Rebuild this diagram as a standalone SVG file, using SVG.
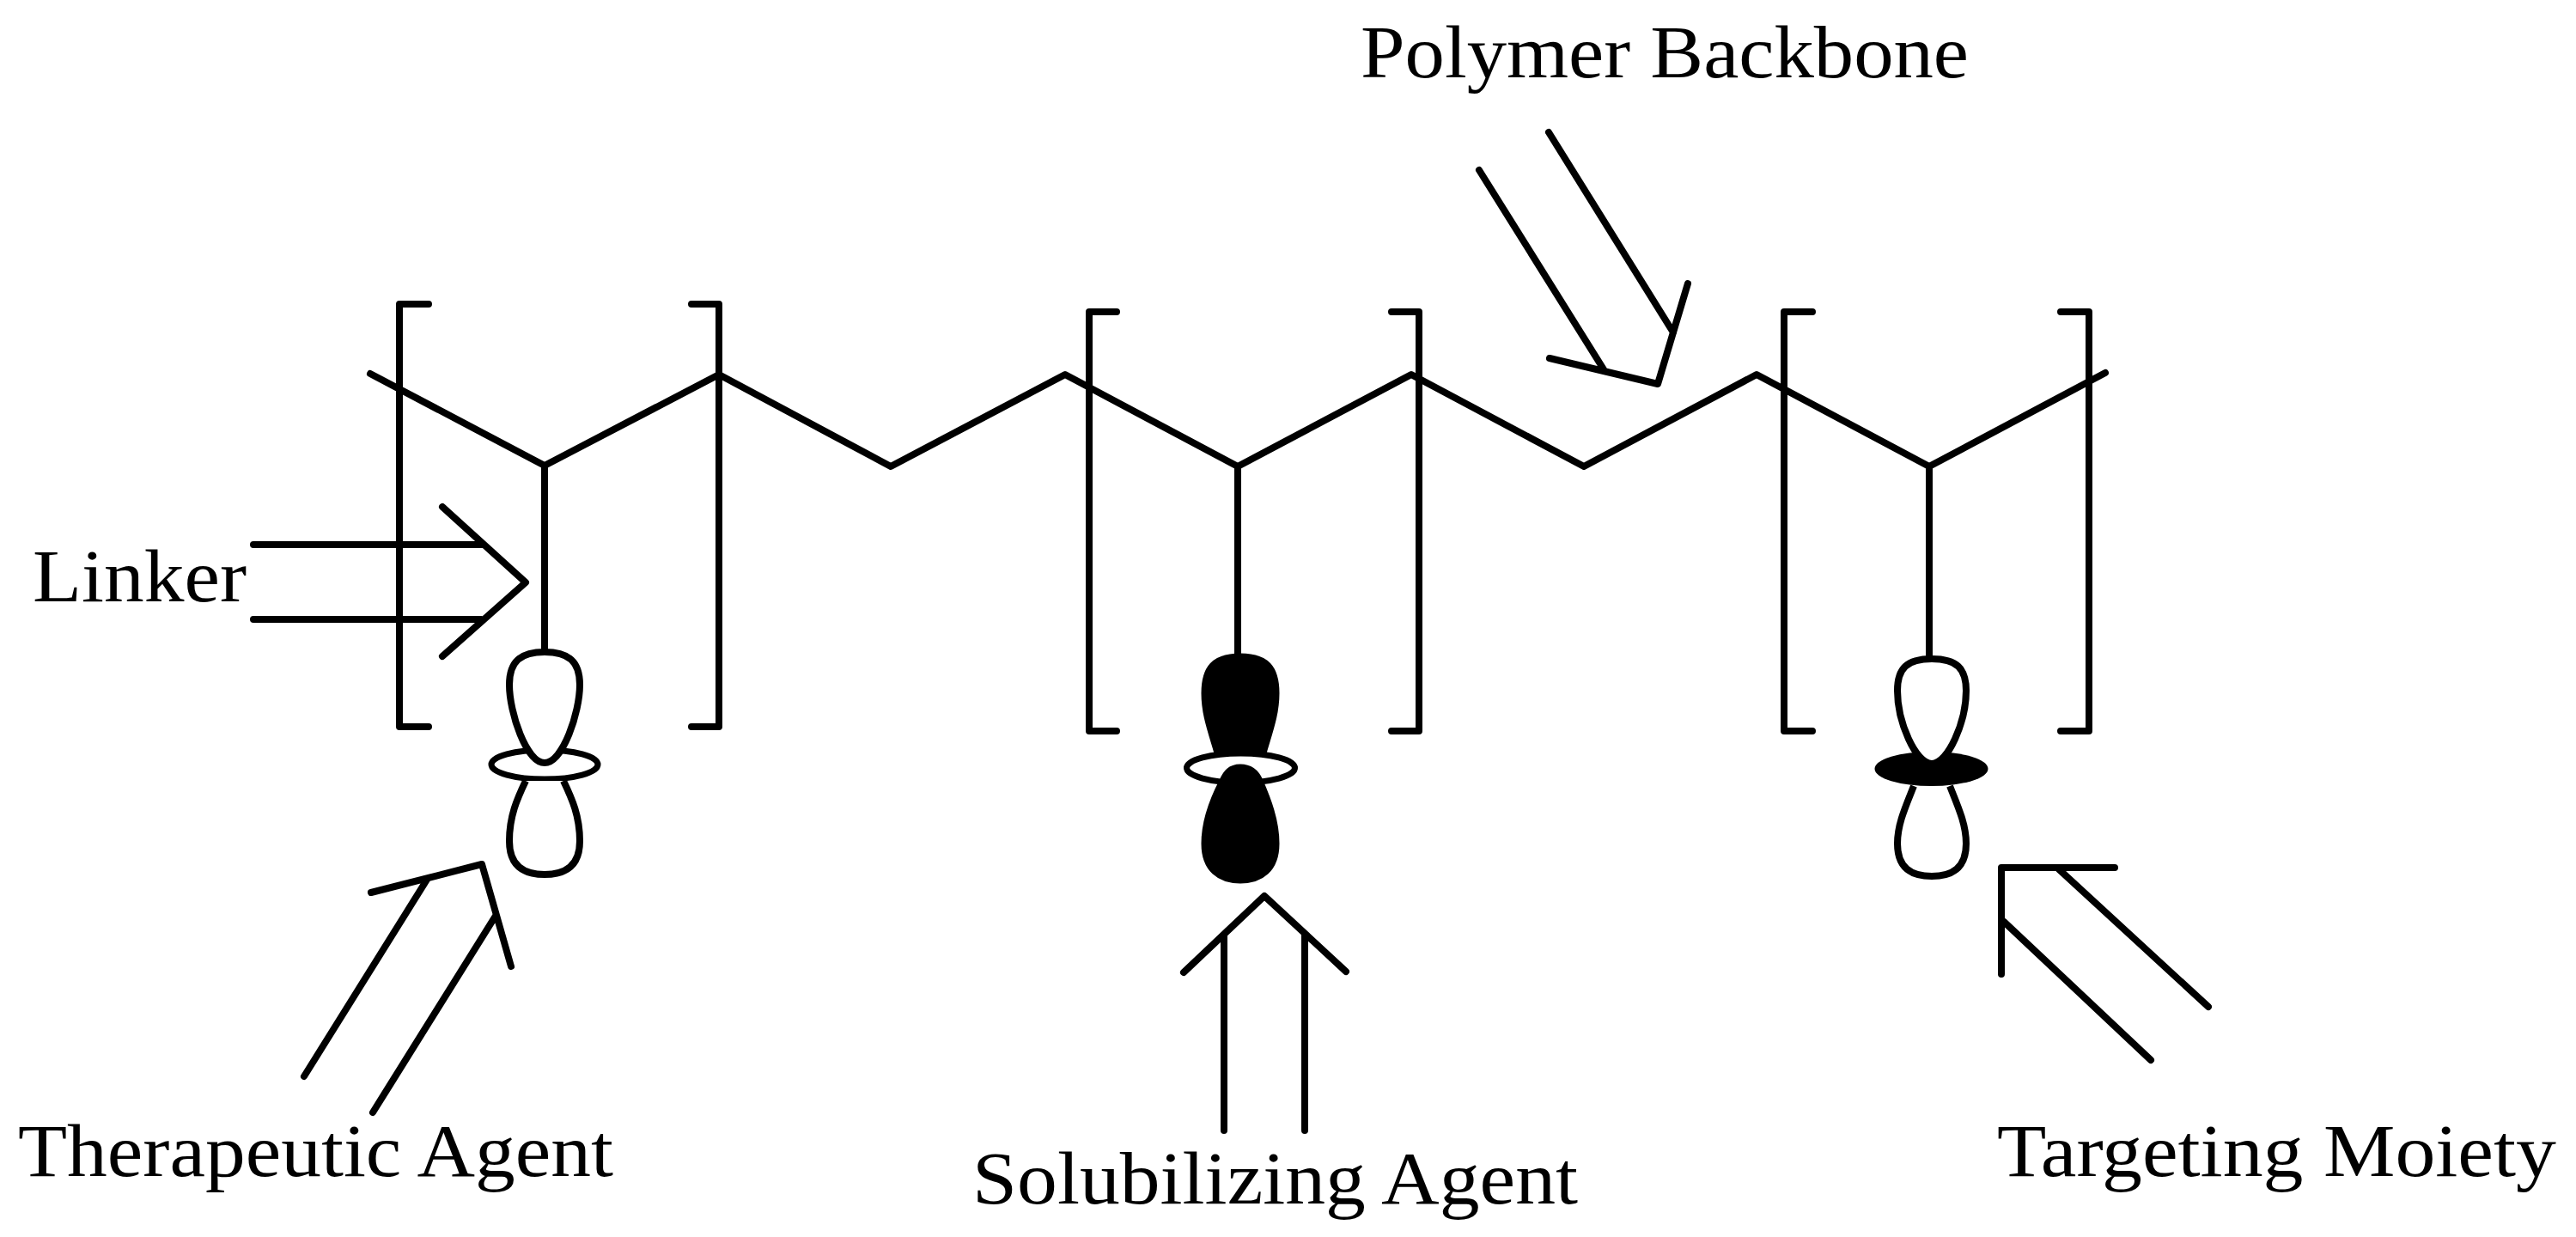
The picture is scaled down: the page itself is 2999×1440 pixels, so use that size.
<svg xmlns="http://www.w3.org/2000/svg" width="2999" height="1440" viewBox="0 0 2999 1440">
<style>
.l{fill:none;stroke:#000;stroke-width:8;stroke-linecap:round;stroke-linejoin:round}
.w{fill:#fff;stroke:#000;stroke-width:8;stroke-linejoin:round}
.k{fill:#000;stroke:#000;stroke-width:7;stroke-linejoin:round}
text{font-family:"Liberation Serif","Times New Roman",serif;font-size:86px;fill:#000}
</style>
<rect width="2999" height="1440" fill="#fff"/>
<g id="backbone">
<path class="l" d="M431,435L634,542L837,436L1037,543L1240,436L1441,543L1643,436L1844,543L2045,436L2246,543L2451,434"/>
</g>
<g id="brackets">
<path class="l" d="M499,354H465V846H499M805,354H837V846H805"/>
<path class="l" d="M1300,363H1268V851H1300M1620,363H1652V851H1620"/>
<path class="l" d="M2110,363H2077V851H2110M2399,363H2432V851H2399"/>
</g>
<g id="therapeutic-unit">
<path class="l" d="M634,542V759"/>
<ellipse cx="634" cy="890" rx="62" ry="17" fill="#fff" stroke="#000" stroke-width="7"/>
<path class="w" d="M634,759C662,759 675,770 675,797C675,830 655,888 634,888C613,888 593,830 593,797C593,770 606,759 634,759Z"/>
<path class="w" d="M612,909C602,930 593,950 593,979C593,1008 610,1018 634,1018C658,1018 675,1008 675,979C675,950 666,930 656,909"/>
</g>
<g id="solubilizing-unit">
<path class="l" d="M1441,543V761"/>
<path class="k" d="M1444,764C1475,764 1486,778 1486,807C1486,832 1478,852 1470,880H1418C1410,852 1402,832 1402,807C1402,778 1413,764 1444,764Z"/>
<ellipse cx="1444.500" cy="894" rx="63" ry="17" fill="#fff" stroke="#000" stroke-width="7"/>
<path class="k" d="M1444,893C1456,893 1463,900 1467,909C1476,930 1486,955 1486,982C1486,1012 1468,1025 1444,1025C1420,1025 1402,1012 1402,982C1402,955 1412,930 1423,909C1427,900 1432,893 1444,893Z"/>
</g>
<g id="targeting-unit">
<path class="l" d="M2246,543V764"/>
<ellipse cx="2248.500" cy="895" rx="66" ry="20" fill="#000"/>
<path class="w" d="M2249,767C2278,767 2289,778 2289,804C2289,840 2268,889 2249,889C2230,889 2209,840 2209,804C2209,778 2220,767 2249,767Z"/>
<path class="w" d="M2228,915C2218,940 2209,960 2209,982C2209,1010 2225,1020 2249,1020C2273,1020 2289,1010 2289,982C2289,960 2280,940 2270,915"/>
</g>
<g id="connectors">
<path class="l" d="M295,634H560M295,721H560M515,590L612,678L515,764"/>
<path class="l" d="M354,1253L497,1024M434,1295L577,1066M432,1039L561,1006L595,1125"/>
<path class="l" d="M1425,1088V1316M1519,1088V1316M1378,1132L1472,1043L1567,1131"/>
<path class="l" d="M2397,1012L2571,1172M2333,1073L2504,1234M2462,1010H2330V1134"/>
<path class="l" d="M1803,154L1948,387M1722,198L1867,430M1804,417L1930,447L1965,330"/>
</g>
<g id="labels">
<text x="1584" y="90" textLength="708" lengthAdjust="spacingAndGlyphs">Polymer Backbone</text>
<text x="38" y="700" textLength="249" lengthAdjust="spacingAndGlyphs">Linker</text>
<text x="21" y="1369" textLength="693" lengthAdjust="spacingAndGlyphs">Therapeutic Agent</text>
<text x="1132" y="1401" textLength="705" lengthAdjust="spacingAndGlyphs">Solubilizing Agent</text>
<text x="2325" y="1369" textLength="651" lengthAdjust="spacingAndGlyphs">Targeting Moiety</text>
</g>
</svg>
